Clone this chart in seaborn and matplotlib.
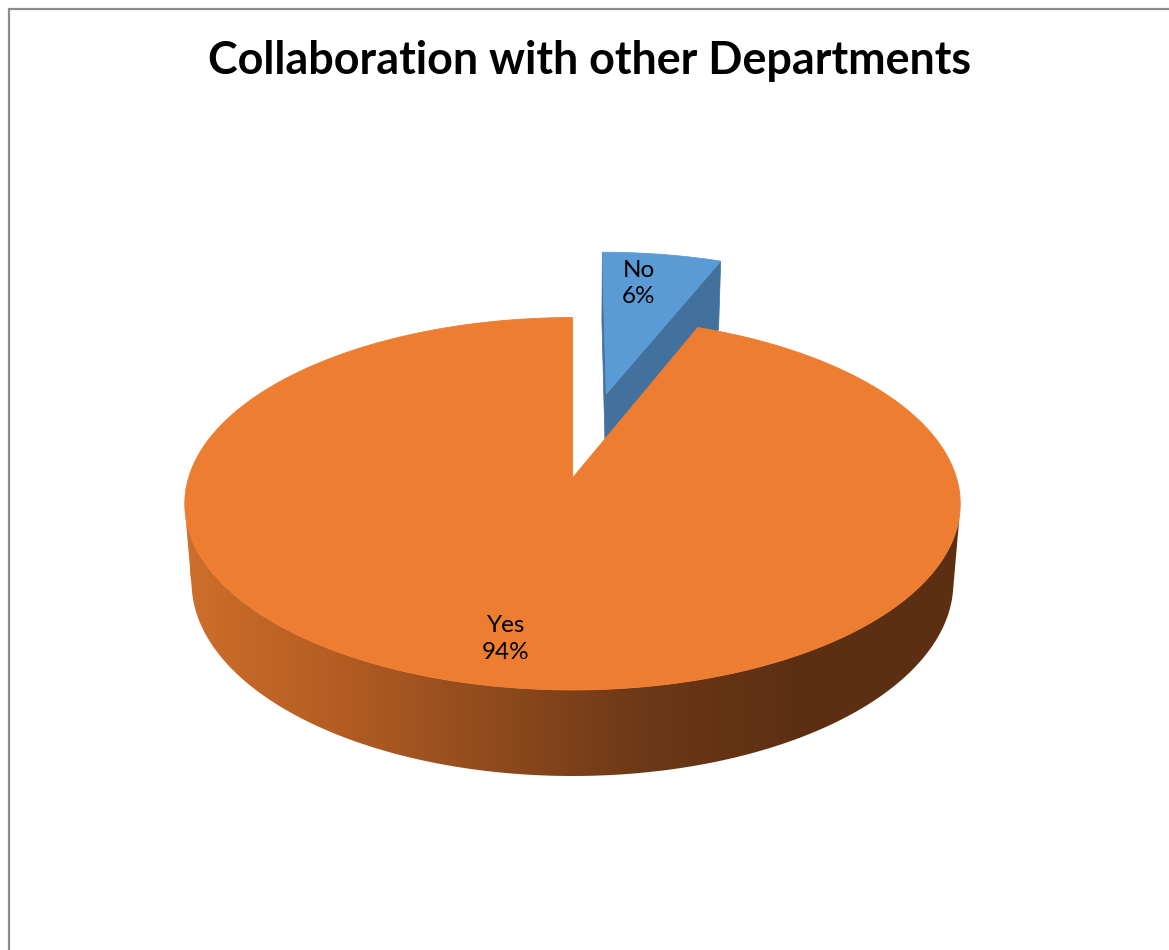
import numpy as np
import matplotlib
matplotlib.use("Agg")
import matplotlib.pyplot as plt
from matplotlib.patches import Polygon
from matplotlib.colors import LinearSegmentedColormap
from matplotlib.lines import Line2D
import seaborn as sns

# ---- data ----
categories = ["No", "Yes"]
shares = [6, 94]
explode = [0.5, 0.0]
title = "Collaboration with other Departments"

top_colors = ["#5B9BD5", "#ED7D31"]
cut_colors = ["#41719C", "#B85A20"]
side_stops = [(0.0, "#CD6E2B"), (0.25, "#B35C22"), (0.5, "#8F4A1D"),
              (0.75, "#6C3817"), (1.0, "#5D2F12")]
# small pixel nudges for the data labels
label_nudge = [(-13, 4), (-2, 0)]

sns.set_theme(style="white")
plt.rcParams["font.family"] = ["Lato", "DejaVu Sans"]

W, H = 1169, 950
fig = plt.figure(figsize=(W / 100, H / 100), dpi=100)
ax = fig.add_axes([0, 0, 1, 1])
ax.set_xlim(0, W)
ax.set_ylim(H, 0)
ax.axis("off")

# ---- 3-D pie projection (perspective, viewed from above) ----
CX, CY, R = 572.5, 478.0, 384.0
alpha = np.deg2rad(28.4)
sa, ca = np.sin(alpha), np.cos(alpha)
D = 7.23 * ca          # camera distance
thick = 0.235          # pie height


def project(x, y, z):
    x, y, z = np.asarray(x, float), np.asarray(y, float), np.asarray(z, float)
    yp = y * ca - z * sa
    zp = y * sa + z * ca
    s = D / (D - zp)
    return CX + R * x * s, CY - R * yp * s


def rim(t, off, y):
    # point on the rim at angle t (clockwise from the far side)
    return off[0] + np.sin(t), y, off[1] - np.cos(t)


def poly(xs, ys, **kw):
    p = Polygon(np.column_stack([xs, ys]), closed=True, **kw)
    ax.add_patch(p)
    return p


fracs = np.array(shares, float) / sum(shares)
bounds = np.concatenate([[0], np.cumsum(fracs)]) * 2 * np.pi

slices = []
for i, cat in enumerate(categories):
    t0, t1 = bounds[i], bounds[i + 1]
    tm = 0.5 * (t0 + t1)
    off = (explode[i] * np.sin(tm), -explode[i] * np.cos(tm))
    slices.append((i, t0, t1, tm, off))

# draw far slices first
slices.sort(key=lambda s: s[4][1])

cmap = LinearSegmentedColormap.from_list("side", side_stops)
flat_dark = LinearSegmentedColormap.from_list("d", [side_stops[-1][1]] * 2)
flat_light = LinearSegmentedColormap.from_list("l", [side_stops[0][1]] * 2)
cam = np.array([0.0, D * sa, D * ca])

for i, t0, t1, tm, off in slices:
    fc = top_colors[i]
    # radial cut faces that face the camera
    for t, sign in ((t0, -1), (t1, 1)):
        n = np.array([sign * np.cos(t), 0.0, sign * np.sin(t)])
        p = np.array([off[0], 0.0, off[1]])
        if np.dot(cam - p, n) > 1e-6 and explode[i] > 0:
            xs = [off[0], off[0] + np.sin(t), off[0] + np.sin(t), off[0]]
            zs = [off[1], off[1] - np.cos(t), off[1] - np.cos(t), off[1]]
            ys = [0, 0, -thick, -thick]
            px, py = project(xs, ys, zs)
            poly(px, py, facecolor=cut_colors[i], edgecolor=cut_colors[i], lw=0.5)

    # outer wall: part of the arc facing the camera
    tt = np.linspace(t0, t1, 600)
    vis = (-D * ca * np.cos(tt) - (off[0] * np.sin(tt) - off[1] * np.cos(tt)) - 1) > 0
    if vis.any():
        tv = tt[vis]
        xa, ya, za = rim(tv, off, 0.0)
        xb, yb, zb = rim(tv[::-1], off, -thick)
        px1, py1 = project(xa, np.zeros_like(tv), za)
        px2, py2 = project(xb, np.full_like(tv, -thick), zb)
        px = np.concatenate([px1, px2])
        py = np.concatenate([py1, py2])
        wall = poly(px, py, facecolor="none", edgecolor="none", lw=0)
        y0, y1 = py.max() + 2, py.min() - 2
        grad = np.linspace(0, 1, 256)[None, :]
        for data, cm, ext in ((grad, cmap, [190, 800, y0, y1]),
                              (np.ones((1, 2)), flat_dark, [799, px.max() + 2, y0, y1]),
                              (np.ones((1, 2)), flat_light, [px.min() - 2, 191, y0, y1])):
            img = ax.imshow(data, cmap=cm, aspect="auto", interpolation="bilinear",
                            extent=ext, zorder=1)
            img.set_clip_path(wall)

    # top face
    xa, ya, za = rim(tt, off, 0.0)
    px, py = project(np.concatenate([[off[0]], xa]),
                     np.zeros(len(tt) + 1),
                     np.concatenate([[off[1]], za]))
    poly(px, py, facecolor=fc, edgecolor=fc, lw=0.6, zorder=2)

    # data label
    r = 0.8
    lx, ly = project(off[0] + r * np.sin(tm), 0.0, off[1] - r * np.cos(tm))
    ax.text(float(lx) + label_nudge[i][0], float(ly) + label_nudge[i][1],
            f"{categories[i]}\n{shares[i]}%",
            ha="center", va="center", fontsize=17.5, color="#000000",
            linespacing=1.3, zorder=5)

ax.text(589, 61, title, ha="center", va="center", fontsize=32.3,
        fontweight="bold", color="#000000", zorder=5)

# chart-area border (left and top edges)
fig.add_artist(Line2D([8.5 / W, 8.5 / W], [0, 1 - 8.5 / H], color="#8C8C8C", lw=1.6,
                      transform=fig.transFigure))
fig.add_artist(Line2D([8.5 / W, 1], [1 - 8.5 / H, 1 - 8.5 / H], color="#8C8C8C", lw=1.6,
                      transform=fig.transFigure))

fig.savefig("out.png", dpi=100, facecolor="white")
